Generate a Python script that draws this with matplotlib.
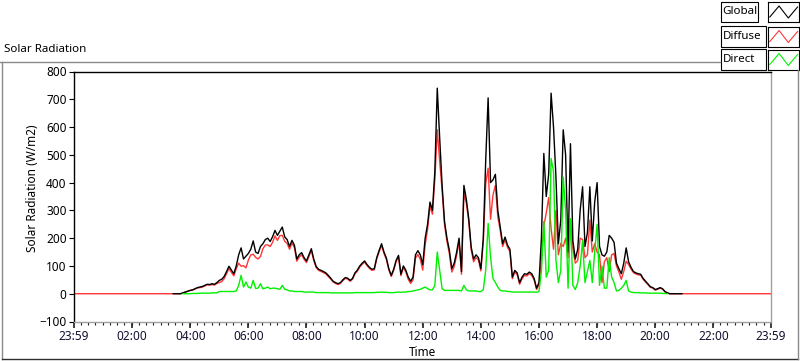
import numpy as np
import matplotlib
import matplotlib.pyplot as plt
from matplotlib.patches import Rectangle
from matplotlib.lines import Line2D

plt.switch_backend('agg')
plt.rcParams['font.family'] = ['Noto Sans', 'DejaVu Sans']

nan = np.nan

# 5-minute samples from 03:00 to 21:00, one row per hour (W/m2)
glob_rows = [
    [nan, nan, nan, nan, nan, 0, 0, 0, 0, 3, 6, 9],               # 03
    [12, 14, 18, 22, 24, 26, 30, 34, 33, 36, 34, 40],             # 04
    [48, 52, 62, 80, 99, 85, 72, 100, 140, 165, 125, 135],        # 05
    [145, 160, 190, 150, 145, 170, 180, 195, 200, 188, 205, 228], # 06
    [210, 225, 240, 205, 195, 170, 192, 175, 125, 140, 148, 130], # 07
    [118, 140, 162, 125, 98, 88, 84, 80, 75, 66, 56, 45],         # 08
    [40, 36, 40, 50, 58, 56, 48, 55, 75, 85, 100, 110],           # 09
    [118, 105, 95, 88, 90, 130, 156, 180, 150, 128, 90, 66],      # 10
    [88, 120, 138, 70, 100, 85, 60, 45, 60, 140, 155, 140],       # 11
    [105, 200, 250, 330, 300, 440, 740, 560, 390, 260, 200, 156], # 12
    [90, 110, 150, 200, 80, 390, 340, 270, 168, 125, 140, 130],   # 13
    [90, 200, 480, 705, 400, 410, 430, 300, 240, 180, 204, 175],  # 14
    [160, 60, 84, 75, 40, 60, 72, 70, 78, 72, 55, 20],            # 15
    [40, 200, 505, 350, 430, 722, 600, 420, 180, 265, 590, 500],  # 16
    [150, 540, 190, 125, 160, 300, 385, 170, 220, 385, 190, 330], # 17
    [400, 170, 140, 135, 150, 210, 200, 185, 110, 90, 72, 110],   # 18
    [165, 115, 95, 80, 75, 72, 70, 55, 45, 35, 25, 22],           # 19
    [15, 18, 22, 18, 8, 3, 0, 0, 0, 0, 0, 0],                     # 20
    [nan],                                                        # 21:00
]

direct_rows = [
    [nan, nan, nan, nan, nan, nan, nan, nan, nan, 0, 0, 0],
    [0, 1, 1, 1, 2, 2, 2, 2, 2, 3, 3, 3],
    [8, 8, 8, 8, 8, 8, 8, 10, 30, 66, 24, 42],
    [24, 20, 48, 19, 20, 36, 18, 20, 24, 18, 20, 20],
    [18, 16, 30, 16, 14, 10, 10, 8, 8, 8, 8, 6],
    [6, 6, 6, 6, 4, 4, 4, 4, 4, 4, 3, 3],
    [3, 3, 3, 3, 3, 3, 3, 3, 4, 4, 4, 4],
    [4, 4, 4, 4, 4, 5, 5, 6, 5, 5, 4, 4],
    [4, 5, 6, 5, 6, 6, 8, 8, 10, 12, 14, 16],
    [20, 24, 18, 14, 14, 30, 150, 84, 18, 12, 12, 12],
    [12, 12, 12, 12, 10, 30, 14, 10, 10, 10, 10, 8],
    [8, 14, 84, 253, 132, 55, 40, 24, 12, 10, 10, 8],
    [8, 6, 6, 6, 6, 6, 6, 6, 6, 6, 6, 5],
    [8, 80, 260, 60, 84, 487, 440, 120, 40, 84, 420, 300],
    [20, 270, 30, 15, 40, 100, 190, 40, 80, 120, 40, 150],
    [250, 30, 100, 20, 20, 130, 60, 40, 10, 12, 20, 30],
    [48, 10, 6, 4, 4, 4, 3, 3, 3, 2, 2, 2],
    [2, 2, 2, 1, 1, 0, nan, nan, nan, nan, nan, nan],
    [nan],
]

diffuse_rows = [
    [0, 0, 0, 0, 0, 0, 0, 0, 0, 3, 6, 9],
    [12, 13, 17, 21, 22, 24, 28, 32, 31, 33, 31, 37],
    [40, 44, 54, 72, 91, 77, 64, 90, 110, 99, 101, 93],
    [121, 140, 142, 131, 125, 134, 162, 175, 176, 170, 185, 208],
    [192, 209, 210, 189, 181, 160, 182, 167, 117, 132, 140, 124],
    [112, 134, 156, 119, 94, 84, 80, 76, 71, 62, 53, 42],
    [37, 33, 37, 47, 55, 53, 45, 52, 71, 81, 96, 106],
    [114, 101, 91, 84, 86, 125, 151, 174, 145, 123, 86, 62],
    [84, 115, 132, 65, 94, 79, 52, 37, 50, 128, 141, 124],
    [85, 176, 232, 316, 286, 410, 590, 476, 372, 248, 188, 144],
    [78, 98, 138, 188, 70, 360, 326, 260, 158, 115, 130, 122],
    [82, 186, 396, 452, 268, 355, 390, 276, 228, 170, 194, 167],
    [152, 54, 78, 69, 34, 54, 66, 64, 72, 66, 49, 15],
    [32, 120, 245, 290, 346, 235, 160, 300, 140, 181, 170, 200],
    [130, 270, 160, 110, 120, 200, 195, 130, 140, 265, 150, 180],
    [150, 140, 40, 115, 130, 80, 140, 145, 100, 78, 52, 80],
    [117, 105, 89, 76, 71, 68, 67, 52, 42, 33, 23, 20],
    [13, 16, 20, 17, 7, 3, 0, 0, 0, 0, 0, 0],
    [0],
]

# diffuse is also logged through the night (zero)
night_minutes = [-1, 1439]
night_diffuse = [0, 0]

tick_minutes = [-1, 120, 240, 360, 480, 600, 720, 840, 960, 1080, 1200, 1320, 1439]
tick_labels = ['23:59', '02:00', '04:00', '06:00', '08:00', '10:00', '12:00',
               '14:00', '16:00', '18:00', '20:00', '22:00', '23:59']
y_ticks = [-100, 0, 100, 200, 300, 400, 500, 600, 700, 800]

series_names = ['Global', 'Diffuse', 'Direct']
series_colors = ['#000000', '#ff3636', '#00f000']

glob = np.concatenate([np.array(r, float) for r in glob_rows])
direct = np.concatenate([np.array(r, float) for r in direct_rows])
diffuse = np.concatenate([np.array(r, float) for r in diffuse_rows])
minutes = 180 + 5 * np.arange(len(glob))

diff_t = np.concatenate([[night_minutes[0]], minutes, [night_minutes[1]]])
diff_v = np.concatenate([[night_diffuse[0]], diffuse, [night_diffuse[1]]])

W, H = 800, 361


def fx(x):
    return x / W


def fy(y):
    return 1 - y / H


fig = plt.figure(figsize=(W / 100, H / 100), dpi=100)
fig.patch.set_facecolor('white')

ax = fig.add_axes([fx(73.5), fy(321.5), (771 - 73.5) / W, (321.5 - 71.5) / H])
ax.plot(diff_t, diff_v, color=series_colors[1], lw=1.0, zorder=2)
ax.plot(minutes, glob, color=series_colors[0], lw=1.0, zorder=3)
ax.plot(minutes, direct, color=series_colors[2], lw=1.0, zorder=4)

ax.set_xlim(-1, 1439)
ax.set_ylim(-100, 800)
ax.set_xticks(tick_minutes)
ax.set_xticklabels(tick_labels)
ax.set_xticks(list(range(14, 1439, 15)), minor=True)
ax.set_yticks(y_ticks)
ax.tick_params(axis='y', direction='out', length=3.5, width=0.8, colors='black',
               labelsize=8.5, pad=1.5)
ax.tick_params(axis='x', which='major', direction='out', length=4, width=1.2,
               color='#202020', labelsize=8.5, labelcolor='#101030', pad=2)
ax.tick_params(axis='x', which='minor', direction='out', length=2.5, width=0.8,
               color='#202020')

for side in ['left', 'top']:
    ax.spines[side].set_color('black')
    ax.spines[side].set_linewidth(1.0)
for side in ['right', 'bottom']:
    ax.spines[side].set_color('#a0a0a0')
    ax.spines[side].set_linewidth(1.0)

# outer panel frame
fig.add_artist(Line2D([fx(0), fx(720)], [fy(61.5), fy(61.5)], color='#8a8a8a', lw=1.0))
fig.add_artist(Line2D([fx(1.5), fx(1.5)], [fy(61.5), fy(358.5)], color='#8a8a8a', lw=1.0))
fig.add_artist(Line2D([fx(1.5), fx(797.5)], [fy(358.5), fy(358.5)], color='#303030', lw=1.0))
fig.add_artist(Line2D([fx(797.5), fx(797.5)], [fy(70), fy(358.5)], color='#8a8a8a', lw=1.0))

fig.text(fx(4), fy(50), 'Solar Radiation', fontsize=8.3, ha='left', va='center')
fig.text(fx(32), fy(188), 'Solar Radiation (W/m2)', fontsize=8.5, rotation=90,
         ha='center', va='center')
fig.text(fx(422.5), fy(353), 'Time', fontsize=8.5, ha='center', va='center')

# legend, one boxed row per series
row_tops = [2, 26.5, 49.5]
label_right = [757.5, 765.5, 765.5]
for name, color, top, lr in zip(series_names, series_colors, row_tops, label_right):
    fig.add_artist(Rectangle((fx(720.5), fy(top + 20)), (lr - 720.5) / W, 20 / H,
                             facecolor='white', edgecolor='black', lw=0.8))
    fig.text(fx(722.5), fy(top + 10), name, fontsize=8.3, ha='left', va='center')
    iax = fig.add_axes([fx(767.5), fy(top + 20), 31 / W, 20 / H])
    iax.plot([0, 1, 2, 3], [0.25, 0.8, 0.2, 0.75], color=color, lw=0.8)
    iax.set_xlim(-0.25, 3.1)
    iax.set_ylim(0, 1)
    iax.set_xticks([])
    iax.set_yticks([])
    for s in iax.spines.values():
        s.set_linewidth(0.8)
        s.set_color('black')

fig.savefig('out.png', dpi=100, facecolor='white')
